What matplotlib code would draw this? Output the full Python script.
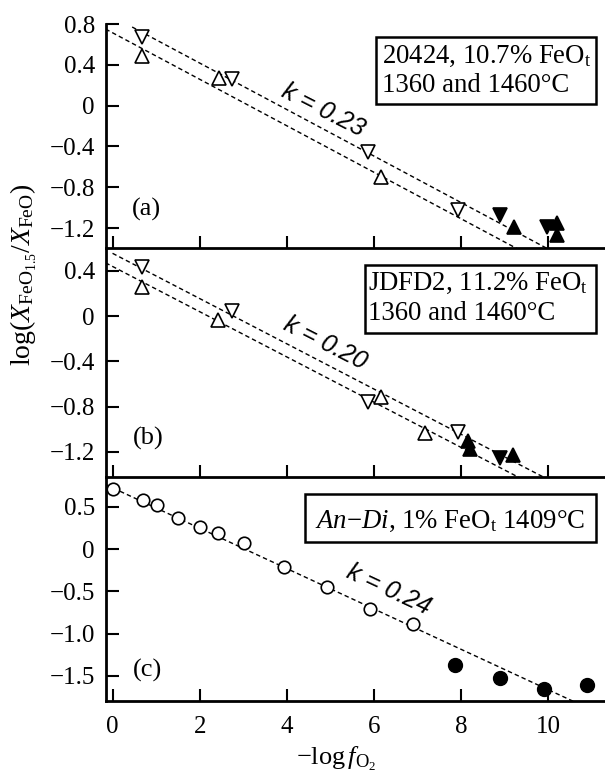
import numpy as np
import matplotlib
matplotlib.use("Agg")
import matplotlib.pyplot as plt
from matplotlib.patches import Rectangle

plt.rcParams['font.family'] = ['Liberation Serif', 'DejaVu Serif']
plt.rcParams['mathtext.fontset'] = 'custom'
plt.rcParams['mathtext.rm'] = 'Liberation Serif'
plt.rcParams['mathtext.it'] = 'Liberation Serif:italic'
plt.rcParams['mathtext.bf'] = 'Liberation Serif:bold'

# ---- data ----
# panel (a) 20424
a_open_down_x = [0.68, 2.73, 5.86, 7.93]
a_open_down_y = [0.67, 0.26, -0.455, -1.02]
a_open_up_x = [0.68, 2.45, 6.16]
a_open_up_y = [0.49, 0.27, -0.70]
a_fill_down_x = [8.9, 9.98]
a_fill_down_y = [-1.07, -1.19]
a_fill_up_x = [9.22, 10.2, 10.2]
a_fill_up_y = [-1.19, -1.15, -1.27]
a_fit_icept = [0.873, 0.714]
a_fit_slope = [-0.228, -0.228]
a_fit_xstart = [0.45, -0.16]

# panel (b) JDFD2
b_open_down_x = [0.68, 2.75, 5.86, 7.93]
b_open_down_y = [0.435, 0.05, -0.76, -1.02]
b_open_up_x = [0.68, 2.43, 6.16, 7.16]
b_open_up_y = [0.26, -0.03, -0.71, -1.03]
b_fill_down_x = [8.9]
b_fill_down_y = [-1.25]
b_fill_up_x = [8.16, 8.2, 9.2]
b_fill_up_y = [-1.10, -1.17, -1.23]
b_fit_icept = [0.556, 0.44]
b_fit_slope = [-0.2, -0.2]
b_fit_xstart = [0.0, -0.16]

# panel (c) An-Di
c_open_x = [0.0, 0.7, 1.02, 1.5, 2.0, 2.43, 3.02, 3.93, 4.91, 5.9, 6.9]
c_open_y = [0.71, 0.58, 0.52, 0.37, 0.26, 0.19, 0.07, -0.21, -0.45, -0.71, -0.88]
c_fill_x = [7.86, 8.89, 9.89, 10.89]
c_fill_y = [-1.37, -1.52, -1.65, -1.61]
c_fit_icept = [0.727]
c_fit_slope = [-0.239]
c_fit_xstart = [-0.14]

x_ticks = [0, 2, 4, 6, 8, 10]
a_yticks = [0.8, 0.4, 0, -0.4, -0.8, -1.2]
a_ylabels = ["0.8", "0.4", "0", "\u22120.4", "\u22120.8", "\u22121.2"]
b_yticks = [0.4, 0, -0.4, -0.8, -1.2]
b_ylabels = ["0.4", "0", "\u22120.4", "\u22120.8", "\u22121.2"]
c_yticks = [0.5, 0, -0.5, -1.0, -1.5]
c_ylabels = ["0.5", "0", "\u22120.5", "\u22121.0", "\u22121.5"]

W, H = 605, 773
fig = plt.figure(figsize=(W / 100, H / 100), dpi=100)


def px_axes(top, bottom, left=106, right=605):
    return fig.add_axes([left / W, 1 - bottom / H, (right - left) / W, (bottom - top) / H])


ax_a = px_axes(24, 248)
ax_b = px_axes(248, 477)
ax_c = px_axes(477, 701)

tick_fs = 18
box_fs = 19.3
k_fs = 18
mk = dict(markersize=10.5, markeredgewidth=1.2, linestyle='none', color='black')


def style(ax, ylim, yticks, ylabels, show_x):
    ax.set_xlim(-0.15, 11.3)
    ax.set_ylim(*ylim)
    ax.spines['top'].set_visible(False)
    ax.spines['right'].set_visible(False)
    for s in ('left', 'bottom'):
        ax.spines[s].set_linewidth(2)
    ax.set_xticks(x_ticks)
    ax.set_yticks(yticks)
    ax.set_yticklabels(ylabels)
    ax.tick_params(direction='in', length=9, width=1.5, labelsize=tick_fs)
    ax.tick_params(axis='y', pad=8)
    ax.tick_params(axis='x', pad=11)
    if not show_x:
        ax.set_xticklabels([])
    ax.patch.set_alpha(0)


def fits(ax, icepts, slopes, xstarts, xend=11.0):
    for b0, m, x0 in zip(icepts, slopes, xstarts):
        xs = np.array([x0, xend])
        ax.plot(xs, b0 + m * xs, color='black', lw=1.0, dashes=(3.2, 2.2), zorder=1)


def box(ax, x0, y0, x1, y1):
    ax.add_patch(Rectangle((x0, y0), x1 - x0, y1 - y0, transform=ax.transAxes,
                           fill=False, lw=1.8, edgecolor='black', clip_on=False))


# panel (a)
fits(ax_a, a_fit_icept, a_fit_slope, a_fit_xstart)
ax_a.plot(a_open_down_x, a_open_down_y, marker='v', markerfacecolor='white', **mk)
ax_a.plot(a_open_up_x, a_open_up_y, marker='^', markerfacecolor='white', **mk)
ax_a.plot(a_fill_down_x, a_fill_down_y, marker='v', markerfacecolor='black', **mk)
ax_a.plot(a_fill_up_x, a_fill_up_y, marker='^', markerfacecolor='black', **mk)
style(ax_a, (-1.396, 0.8), a_yticks, a_ylabels, False)
box(ax_a, 0.541, 0.643, 0.982, 0.942)
ax_a.text(0.553, 0.826, "20424, 10.7% FeO$_\\mathrm{t}$", transform=ax_a.transAxes,
          fontsize=box_fs, va='baseline', ha='left')
ax_a.text(0.553, 0.696, "1360 and 1460°C", transform=ax_a.transAxes,
          fontsize=box_fs, va='baseline', ha='left')
ax_a.text(0.082, 0.17, "(a)", transform=ax_a.transAxes, fontsize=19, ha='center', va='center')
ax_a.text(4.84, -0.043, "k = 0.23", rotation=-27, fontsize=k_fs, style='italic',
          family='Liberation Sans', ha='center', va='center')

# panel (b)
fits(ax_b, b_fit_icept, b_fit_slope, b_fit_xstart)
ax_b.plot(b_open_down_x, b_open_down_y, marker='v', markerfacecolor='white', **mk)
ax_b.plot(b_open_up_x, b_open_up_y, marker='^', markerfacecolor='white', **mk)
ax_b.plot(b_fill_down_x, b_fill_down_y, marker='v', markerfacecolor='black', **mk)
ax_b.plot(b_fill_up_x, b_fill_up_y, marker='^', markerfacecolor='black', **mk)
style(ax_b, (-1.421, 0.603), b_yticks, b_ylabels, False)
box(ax_b, 0.519, 0.629, 0.982, 0.926)
ax_b.text(0.525, 0.817, "JDFD2, 11.2% FeO$_\\mathrm{t}$", transform=ax_b.transAxes,
          fontsize=box_fs, va='baseline', ha='left')
ax_b.text(0.525, 0.686, "1360 and 1460°C", transform=ax_b.transAxes,
          fontsize=box_fs, va='baseline', ha='left')
ax_b.text(0.084, 0.17, "(b)", transform=ax_b.transAxes, fontsize=19, ha='center', va='center')
ax_b.text(4.89, -0.237, "k = 0.20", rotation=-27, fontsize=k_fs, style='italic',
          family='Liberation Sans', ha='center', va='center')

# panel (c)
fits(ax_c, c_fit_icept, c_fit_slope, c_fit_xstart)
ax_c.plot(c_open_x, c_open_y, marker='o', markerfacecolor='white', markersize=9, markeredgewidth=1.2,
          linestyle='none', color='black')
ax_c.plot(c_fill_x, c_fill_y, marker='o', markerfacecolor='black', markersize=10, linestyle='none',
          color='black')
style(ax_c, (-1.796, 0.855), c_yticks, c_ylabels, True)
box(ax_c, 0.399, 0.710, 0.982, 0.924)
ax_c.text(0.418, 0.772, "$An$\u2212$Di$, 1% FeO$_\\mathrm{t}$ 1409°C", transform=ax_c.transAxes,
          fontsize=box_fs, va='baseline', ha='left')
ax_c.text(0.084, 0.138, "(c)", transform=ax_c.transAxes, fontsize=19, ha='center', va='center')
ax_c.text(6.34, -0.48, "k = 0.24", rotation=-25, fontsize=k_fs, style='italic',
          family='Liberation Sans', ha='center', va='center')

fig.text(24 / W, 1 - 275 / H, r"$\log(X_{\mathrm{FeO}_{1.5}}/X_{\mathrm{FeO}})$",
         rotation=90, fontsize=20, ha='center', va='center')
fig.text(336 / W, 1 - 765 / H, r"$-\log f_{\mathrm{O}_2}$", fontsize=19, ha='center', va='baseline')

fig.savefig("out.png", dpi=100)
